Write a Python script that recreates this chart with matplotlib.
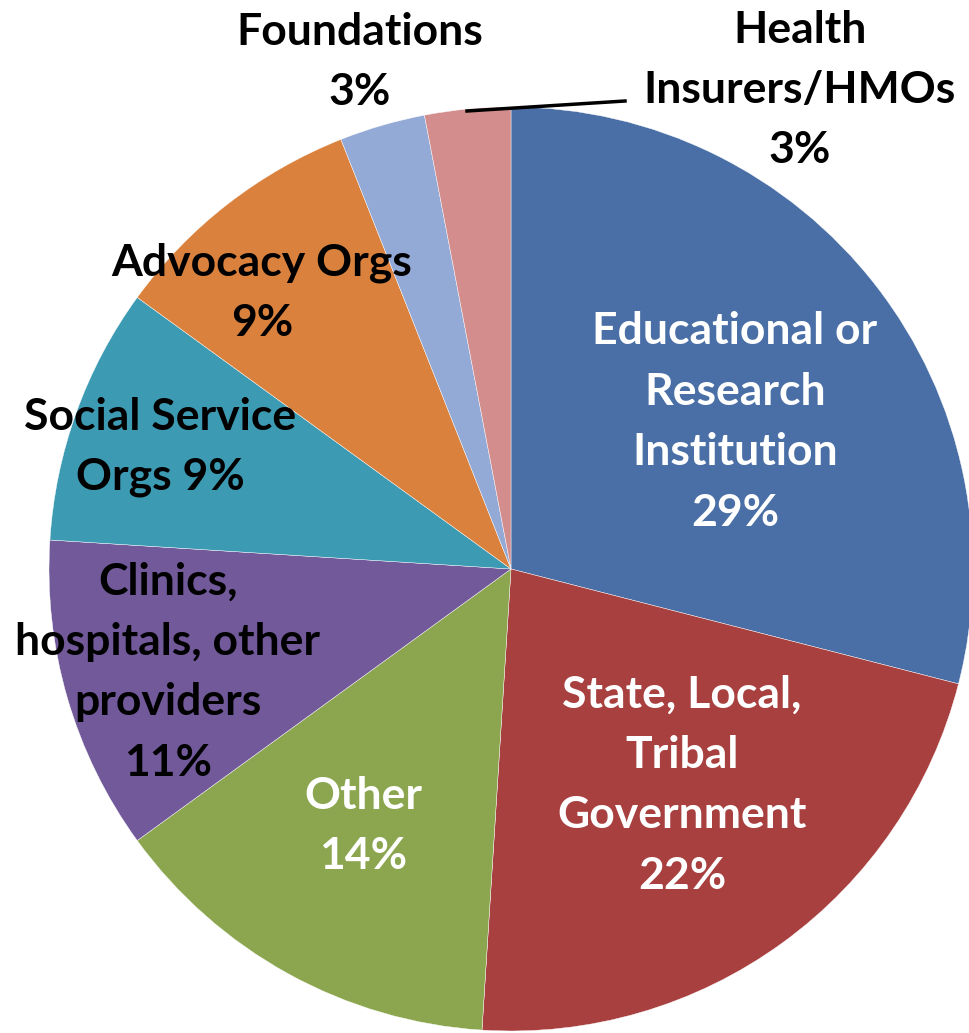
import matplotlib.pyplot as plt

# data
categories = ["Educational or\nResearch\nInstitution", "State, Local,\nTribal\nGovernment",
              "Other", "Clinics,\nhospitals, other\nproviders", "Social Service\nOrgs",
              "Advocacy Orgs", "Foundations", "Health\nInsurers/HMOs"]
shares = [29, 22, 14, 11, 9, 9, 3, 3]
pct_sep = ["\n", "\n", "\n", "\n", " ", "\n", "\n", "\n"]
colors = ["#4A6FA6", "#A8403F", "#8BA64F", "#71599A", "#3C9AB3",
          "#DA823D", "#93A9D6", "#D38D8D"]
text_colors = ["white", "white", "white", "black", "black", "black", "black", "black"]

# label centres in pixel space (x, y from top)
label_pos = [(735, 422), (682, 785), (363, 826), (168, 672), (160, 447),
             (262, 293), (360, 62), (800, 90)]

W, H = 970, 1033
fig = plt.figure(figsize=(W / 100, H / 100), dpi=100)
ax = fig.add_axes([0, 0, 1, 1])

cx, cy, r = 511, H - 569, 462
ax.pie(shares, colors=colors, startangle=90, counterclock=False,
       center=(cx, cy), radius=r, frame=True,
       wedgeprops=dict(linewidth=0.3, edgecolor='white'))
ax.set_xlim(0, W)
ax.set_ylim(0, H)
ax.axis('off')

for name, v, sep, (x, y), tc in zip(categories, shares, pct_sep, label_pos, text_colors):
    ax.text(x, H - y, f"{name}{sep}{v}%", ha='center', va='center',
            fontsize=32, fontweight='bold', family='Lato', color=tc,
            linespacing=1.62)

# leader line for Health Insurers
ax.plot([467, 625], [H - 111, H - 101], color='black', lw=2.5)

fig.savefig("out.png", dpi=100)
